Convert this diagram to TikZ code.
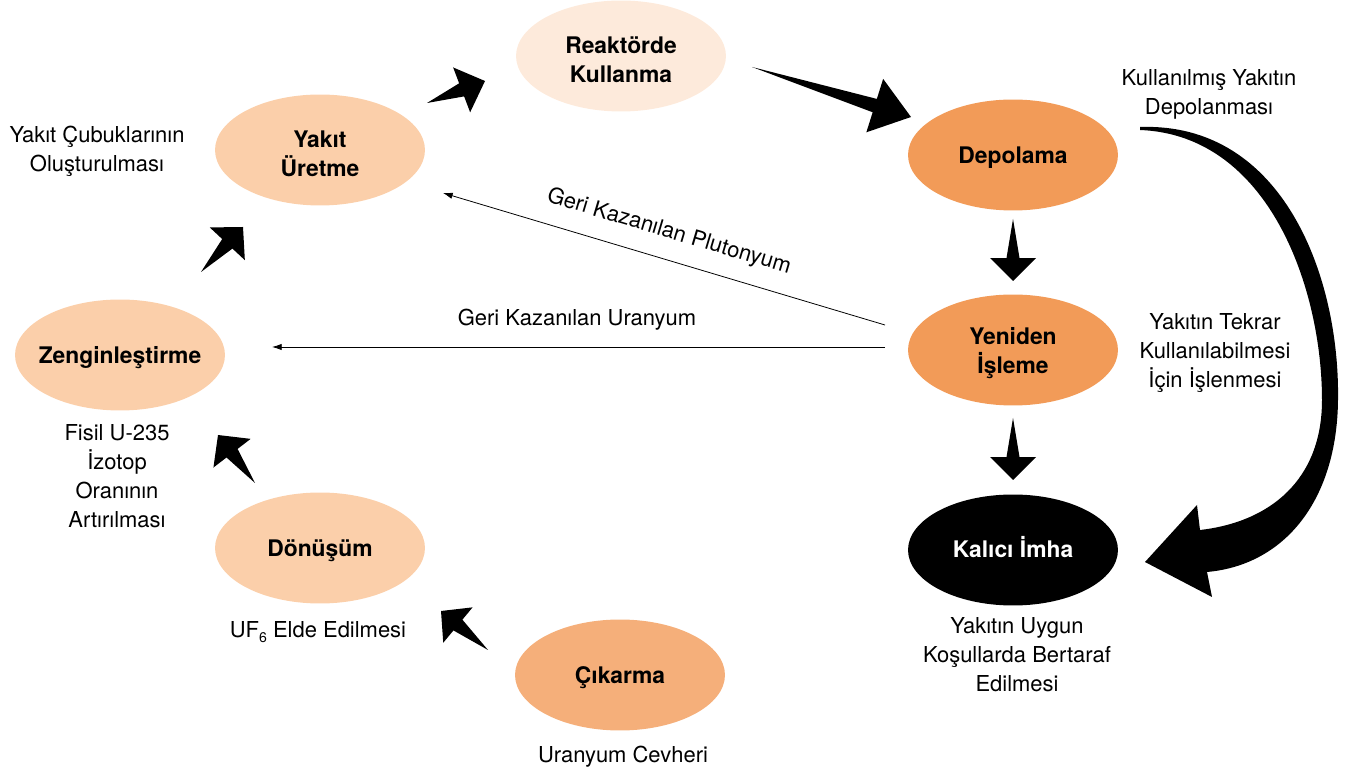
\documentclass[tikz,border=0pt]{standalone}
\usepackage{fontspec}
\setmainfont{TeX Gyre Heros}
\usetikzlibrary{arrows.meta, calc, shapes.geometric}
\definecolor{Blush}{HTML}{FDEADB}
\definecolor{Peach}{HTML}{FBCFAA}
\definecolor{Apricot}{HTML}{F5AF7A}
\definecolor{Amber}{HTML}{F29B58}
\definecolor{Ink}{HTML}{000000}

% wedge arrow: tail, tip, head length, head half width, shaft half width
\newcommand{\taperarrow}[5]{%
  \coordinate (hb) at ($(#2)!#3!(#1)$);
  \fill[Ink] (#1) -- ($(hb)!#5!90:(#2)$) -- ($(hb)!#4!90:(#2)$) -- (#2)
    -- ($(hb)!#4!-90:(#2)$) -- ($(hb)!#5!-90:(#2)$) -- cycle;
}
\newcommand{\tallstrut}{\rule{0pt}{14pt}}

\begin{document}
\begin{tikzpicture}[
  x=0.02cm, y=-0.02cm,
  stage/.style={
    ellipse,
    minimum width=4.2cm,
    minimum height=2.22cm,
    inner sep=0pt,
    text depth=-3pt,
    align=center,
    font=\fontsize{13}{16.5}\selectfont\bfseries
  },
  caption/.style={
    align=center,
    inner sep=0pt,
    font=\fontsize{12.5}{16.5}\selectfont
  },
  feedback/.style={
    -{Latex[length=5.5pt,width=3.6pt]},
    line width=0.45pt,
    draw=Ink
  }
]

\useasboundingbox (0,0) rectangle (1347,773);

% stages of the cycle
\node[stage, fill=Blush] (reaktor) at (621,56) {\tallstrut Reaktörde\\Kullanma};
\node[stage, fill=Peach] (uretim) at (320,150) {\tallstrut Yakıt\\Üretme};
\node[stage, fill=Amber] (depolama) at (1013,155) {Depolama};
\node[stage, fill=Amber] (isleme) at (1013,350) {Yeniden\\İşleme};
\node[stage, fill=Ink, text=white, text depth=3.5pt] (imha) at (1013,550) {Kalıcı İmha};
\node[stage, fill=Peach, inner xsep=-4pt] (zengin) at (120,355) {Zenginleştirme};
\node[stage, fill=Peach] (donusum) at (320,548) {Dönüşüm};
\node[stage, fill=Apricot] (cikarma) at (620,675) {Çıkarma};

% captions
\node[caption] (depcap) at (1209,94) {Kullanılmış Yakıtın\\Depolanması};
\node[caption] (urecap) at (97,151) {Yakıt Çubuklarının\\Oluşturulması};
\node[caption] (islcap) at (1215,353) {Yakıtın Tekrar\\Kullanılabilmesi\\İçin İşlenmesi};
\node[caption] (zencap) at (117,476) {Fisil U-235\\İzotop\\Oranının\\Artırılması};
\node[caption] (doncap) at (318,632)
  {UF{\fontsize{8}{8}\selectfont\raisebox{-0.6ex}{6}} Elde Edilmesi};
\node[caption] (imhcap) at (1017,655) {Yakıtın Uygun\\Koşullarda Bertaraf\\Edilmesi};
\node[caption] (cikcap) at (623,757) {Uranyum Cevheri};

% wedge arrows
\coordinate (a1) at (427,103);  \coordinate (b1) at (485,81);
\coordinate (a2) at (752,67);   \coordinate (b2) at (911,117);
\coordinate (a3) at (201,272);  \coordinate (b3) at (243,227);
\coordinate (a4) at (255,483);  \coordinate (b4) at (218,435);
\coordinate (a5) at (488,650);  \coordinate (b5) at (441,611);
\coordinate (a6) at (1013,219); \coordinate (b6) at (1013,281);
\coordinate (a7) at (1013,418); \coordinate (b7) at (1013,480);

\taperarrow{a1}{b1}{0.5cm}{0.48cm}{0.14cm}
\taperarrow{a2}{b2}{0.76cm}{0.56cm}{0.14cm}
\taperarrow{a3}{b3}{0.46cm}{0.48cm}{0.14cm}
\taperarrow{a4}{b4}{0.46cm}{0.47cm}{0.14cm}
\taperarrow{a5}{b5}{0.44cm}{0.46cm}{0.14cm}
\taperarrow{a6}{b6}{0.46cm}{0.46cm}{0.13cm}
\taperarrow{a7}{b7}{0.46cm}{0.46cm}{0.13cm}

% curved arrow from storage to disposal
\fill[Ink] (1140,127) .. controls (1285,122) and (1340,280) .. (1338,400)
  .. controls (1337,500) and (1285,565) .. (1207,572)
  -- (1212,597) -- (1145,562) -- (1197,505) -- (1200,530)
  .. controls (1270,522) and (1322,480) .. (1322,400)
  .. controls (1322,290) and (1270,135) .. (1140,130) -- cycle;

% recovered material
\coordinate (pu0) at (885,325); \coordinate (pu1) at (443,193);
\coordinate (u0) at (885,347);  \coordinate (u1) at (272,347);
\draw[feedback] (pu0) -- (pu1);
\draw[feedback] (u0) -- (u1);
\node[caption, rotate=-16.6] (pulabel) at (669,232) {Geri Kazanılan Plutonyum};
\node[caption] (ulabel) at (577,320) {Geri Kazanılan Uranyum};

\end{tikzpicture}
\end{document}
